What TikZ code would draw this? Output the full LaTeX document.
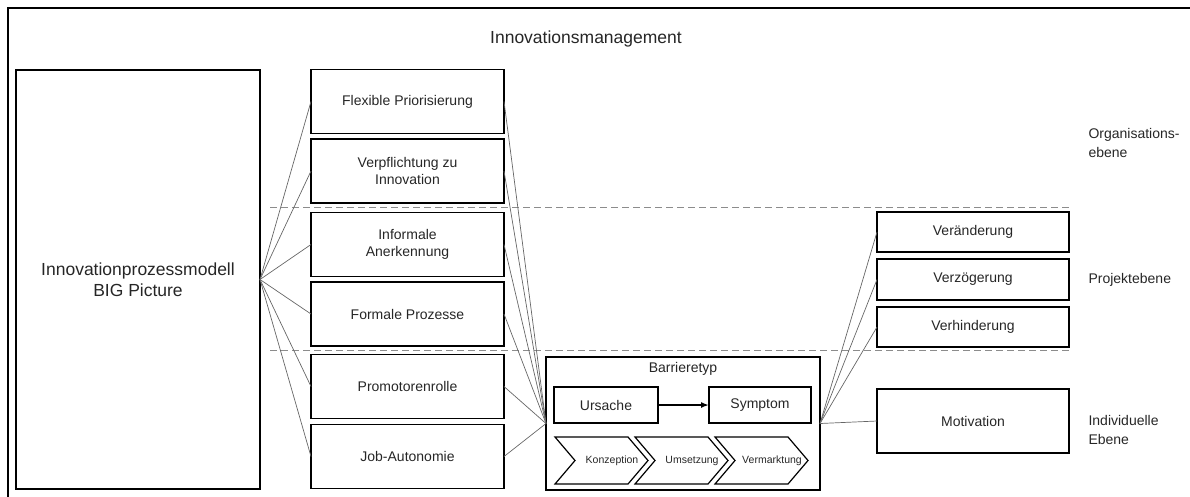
\documentclass[tikz,border=0pt]{standalone}
\usepackage{fontspec}
\setmainfont{Liberation Sans}
\usetikzlibrary{arrows.meta}

\tikzset{
  box/.style={draw, rectangle, line width=1.2pt, align=center, inner sep=2pt, outer sep=0pt,
    text=black!85, font=\fontsize{14}{17}\selectfont},
  midbox/.style={box, minimum width=193pt, minimum height=64pt},
  rightbox/.style={box, minimum width=192pt, minimum height=40pt},
  level/.style={anchor=west, align=left, text=black!85, font=\fontsize{14}{19}\selectfont},
  link/.style={draw=black!60, line width=0.7pt},
  sep/.style={draw=black!45, line width=1pt, dash pattern=on 7pt off 4pt},
  chev/.style={draw, line width=1.2pt, line join=miter},
  chevtext/.style={text=black!85, font=\fontsize{10.5}{12}\selectfont, inner sep=0pt}
}

\begin{document}
\begin{tikzpicture}[x=1pt,y=-1pt]
        \useasboundingbox (0,0) rectangle (1190,496);

        % Frame
        \draw[line width=1.2pt] (8,510) -- (8,8) -- (1200,8);
        \node[text=black!85, font=\fontsize{17.5}{20}\selectfont] (title) at (586,39) {Innovationsmanagement};

        % Levels
        \draw[sep] (270,207) -- (1070,207);
        \draw[sep] (270,350.5) -- (1070,350.5);
        \node[level] (org) at (1085,143) {Organisations-\\ebene};
        \node[level] (proj) at (1085,280) {Projektebene};
        \node[level] (indiv) at (1085,430) {Individuelle\\Ebene};

        % Model
        \node[box, minimum width=244pt, minimum height=419pt, font=\fontsize{17.5}{21}\selectfont] (model) at (138,279.5) {Innovationprozessmodell\\BIG Picture};

        % Factors
        \node[midbox] (prio) at (407.5,101.5) {Flexible Priorisierung};
        \node[midbox] (verpfl) at (407.5,171) {Verpflichtung zu\\Innovation};
        \node[midbox] (informal) at (407.5,244.5) {Informale\\Anerkennung};
        \node[midbox] (formal) at (407.5,314) {Formale Prozesse};
        \node[midbox] (promotor) at (407.5,386.5) {Promotorenrolle};
        \node[midbox] (autonomie) at (407.5,456.5) {Job-Autonomie};

        % Barriers
        \node[box, minimum width=274pt, minimum height=133pt] (barriere) at (683,423.5) {};
        \node[text=black!85, font=\fontsize{14}{17}\selectfont] (barrtitle) at (683,369) {Barrieretyp};
        \node[box, minimum width=104pt, minimum height=36pt] (ursache) at (606,405) {Ursache};
        \node[box, minimum width=102pt, minimum height=36pt] (symptom) at (760,405) {Symptom};
        \draw[-{Latex[length=8pt,width=6pt]}, line width=1.6pt] (ursache) -- (symptom);

        % Phases
        \draw[chev] (555,437) -- ++(73,0) -- ++(20,23.5) -- ++(-20,23.5) -- ++(-73,0) -- ++(20,-23.5) -- cycle;
        \draw[chev] (635,437) -- ++(73,0) -- ++(20,23.5) -- ++(-20,23.5) -- ++(-73,0) -- ++(20,-23.5) -- cycle;
        \draw[chev] (715,437) -- ++(73,0) -- ++(20,23.5) -- ++(-20,23.5) -- ++(-73,0) -- ++(20,-23.5) -- cycle;
        \node[chevtext] (konzeption) at (612,460.5) {Konzeption};
        \node[chevtext] (umsetzung) at (692,460.5) {Umsetzung};
        \node[chevtext] (vermarktung) at (772,460.5) {Vermarktung};

        % Effects
        \node[rightbox] (veraend) at (973,232) {Veränderung};
        \node[rightbox, minimum height=41pt] (verzoeg) at (973,279.5) {Verzögerung};
        \node[rightbox] (verhind) at (973,327) {Verhinderung};
        \node[rightbox, minimum height=64pt] (motivation) at (973,421) {Motivation};

        % Lines
        \draw[link] (model.east) -- (prio.west);
        \draw[link] (model.east) -- (verpfl.west);
        \draw[link] (model.east) -- (informal.west);
        \draw[link] (model.east) -- (formal.west);
        \draw[link] (model.east) -- (promotor.west);
        \draw[link] (model.east) -- (autonomie.west);

        \draw[link] (prio.east) -- (barriere.west);
        \draw[link] (verpfl.east) -- (barriere.west);
        \draw[link] (informal.east) -- (barriere.west);
        \draw[link] (formal.east) -- (barriere.west);
        \draw[link] (promotor.east) -- (barriere.west);
        \draw[link] (autonomie.east) -- (barriere.west);

        \draw[link] (barriere.east) -- (veraend.west);
        \draw[link] (barriere.east) -- (verzoeg.west);
        \draw[link] (barriere.east) -- (verhind.west);
        \draw[link] (barriere.east) -- (motivation.west);
    \end{tikzpicture}
\end{document}
